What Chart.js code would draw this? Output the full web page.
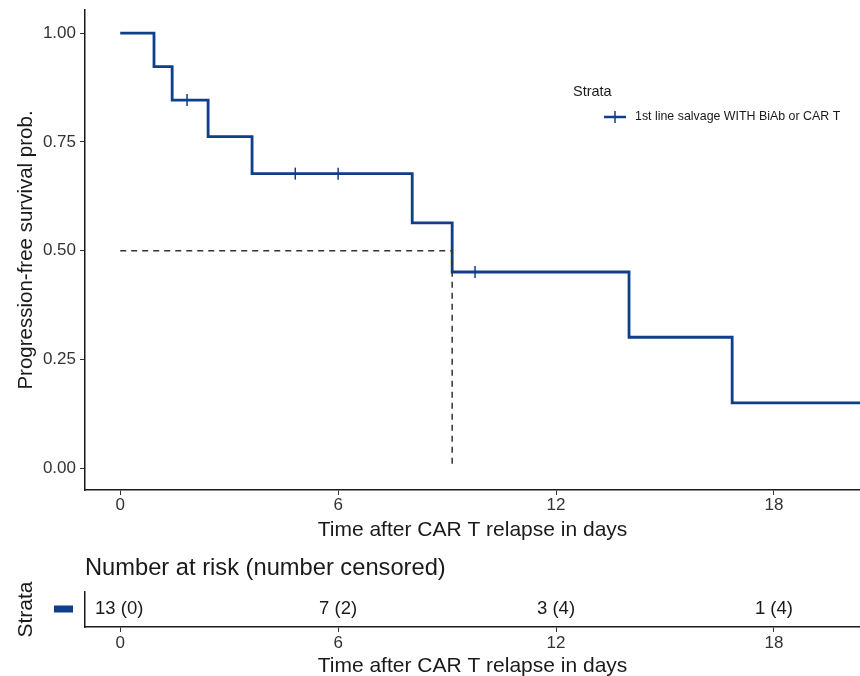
<!DOCTYPE html>
<html>
<head>
<meta charset="utf-8">
<script src="https://cdn.jsdelivr.net/npm/chart.js@4.4.0/dist/chart.umd.min.js"></script>
<style>
  body { margin: 0; background: #fff; overflow: hidden; }
  #wrap { position: relative; width: 860px; height: 676px; overflow: hidden; }
  #km { position: absolute; left: 0; top: 0; }
  #risk { position: absolute; left: 0; top: 540px; }
</style>
</head>
<body>
<div id="wrap">
  <canvas id="km" width="860" height="543"></canvas>
  <canvas id="risk" width="860" height="139"></canvas>
</div>
<script>
/* Data */
const stepTimes = [0, 0.93, 1.43, 2.42, 3.63, 8.04, 9.14, 14.01, 16.85, 20.4];
const stepSurv  = [1.00, 0.923, 0.846, 0.762, 0.677, 0.564, 0.451, 0.301, 0.150, 0.150];
const censorTimes = [1.84, 4.82, 6.0, 9.77];
const censorSurv  = [0.846, 0.677, 0.677, 0.451];
const medianTime = 9.14;
const xTicks = [0, 6, 12, 18];
const yTicks = [0, 0.25, 0.5, 0.75, 1];
const riskTimes = [0, 6, 12, 18];
const riskLabels = ['13 (0)', '7 (2)', '3 (4)', '1 (4)'];
const strataName = '1st line salvage WITH BiAb or CAR T';

const blue = '#0F3E8A';
const FONT = '"Liberation Sans", Arial, sans-serif';
Chart.defaults.font.family = FONT;
Chart.defaults.animation = false;

const X_MIN = -0.97, X_MAX = 20.37;

function toXY(xs, ys) {
  return xs.map(function (x, i) { return { x: x, y: ys[i] }; });
}

/* Legend inside the panel */
const kmLegend = {
  id: 'kmLegend',
  afterDraw: function (chart) {
    const ctx = chart.ctx;
    ctx.save();
    ctx.fillStyle = '#1a1a1a';
    ctx.font = '14.5px ' + FONT;
    ctx.textBaseline = 'middle';
    ctx.fillText('Strata', 573, 92);
    ctx.strokeStyle = blue;
    ctx.lineWidth = 2.5;
    ctx.beginPath();
    ctx.moveTo(604, 117); ctx.lineTo(626, 117);
    ctx.stroke();
    ctx.lineWidth = 1.5;
    ctx.beginPath();
    ctx.moveTo(615, 111); ctx.lineTo(615, 123);
    ctx.stroke();
    ctx.font = '12.4px ' + FONT;
    ctx.fillText(strataName, 635, 117);
    ctx.restore();
  }
};

new Chart(document.getElementById('km'), {
  type: 'scatter',
  data: {
    datasets: [
      {
        // median guide
        data: [{ x: 0, y: 0.5 }, { x: medianTime, y: 0.5 }, { x: medianTime, y: 0 }],
        showLine: true,
        borderColor: '#333',
        borderWidth: 1.5,
        borderDash: [6, 5],
        pointRadius: 0
      },
      {
        data: toXY(stepTimes, stepSurv),
        showLine: true,
        stepped: 'before',
        borderColor: blue,
        borderWidth: 2.8,
        pointRadius: 0
      },
      {
        data: toXY(censorTimes, censorSurv),
        pointStyle: 'line',
        rotation: 90,
        radius: 6,
        borderColor: blue,
        borderWidth: 1.5
      }
    ]
  },
  options: {
    responsive: false,
    layout: { autoPadding: false, padding: { top: 10, right: 0, left: 0, bottom: 0 } },
    plugins: { legend: { display: false }, tooltip: { enabled: false } },
    scales: {
      x: {
        type: 'linear',
        min: X_MIN,
        max: X_MAX,
        afterBuildTicks: function (s) { s.ticks = xTicks.map(function (v) { return { value: v }; }); },
        afterFit: function (s) { s.height = 53; s.paddingLeft = 0; s.paddingRight = 0; },
        grid: { drawOnChartArea: false, drawTicks: true, tickLength: 5, color: '#333', lineWidth: 1 },
        border: { display: true, color: '#1a1a1a', width: 1.5 },
        ticks: { color: '#333', font: { size: 17 }, padding: 0, maxRotation: 0 },
        title: { display: true, text: 'Time after CAR T relapse in days', color: '#1a1a1a', font: { size: 21 }, padding: { top: 0, bottom: 0 } }
      },
      y: {
        min: -0.05,
        max: 1.053,
        afterBuildTicks: function (s) { s.ticks = yTicks.map(function (v) { return { value: v }; }); },
        afterFit: function (s) { s.width = 85; s.paddingTop = 0; s.paddingBottom = 0; },
        grid: { drawOnChartArea: false, drawTicks: true, tickLength: 5, color: '#333', lineWidth: 1 },
        border: { display: true, color: '#1a1a1a', width: 1.5 },
        ticks: { color: '#333', font: { size: 17 }, padding: 4, callback: function (v) { return v.toFixed(2); } },
        title: { display: true, text: 'Progression-free survival prob.', color: '#1a1a1a', font: { size: 20.5 }, padding: { top: 14, bottom: 0 } }
      }
    }
  },
  plugins: [kmLegend]
});

/* Risk table text, title and strata key */
const riskText = {
  id: 'riskText',
  afterDraw: function (chart) {
    const ctx = chart.ctx;
    const xs = chart.scales.x;
    const area = chart.chartArea;
    const midY = (area.top + area.bottom) / 2;
    ctx.save();
    ctx.fillStyle = '#1a1a1a';
    ctx.font = '23.7px ' + FONT;
    ctx.textBaseline = 'middle';
    ctx.textAlign = 'left';
    ctx.fillText('Number at risk (number censored)', 85, 28);
    ctx.font = '18.5px ' + FONT;
    riskTimes.forEach(function (t, i) {
      let px = xs.getPixelForValue(t);
      ctx.textAlign = i === 0 ? 'left' : 'center';
      if (i === 0) px = area.left + 10;
      ctx.fillText(riskLabels[i], px, midY - 1);
    });
    ctx.fillStyle = blue;
    ctx.fillRect(54, midY - 4, 19, 7);
    ctx.restore();
  }
};

new Chart(document.getElementById('risk'), {
  type: 'scatter',
  data: { datasets: [{ data: [] }] },
  options: {
    responsive: false,
    layout: { autoPadding: false, padding: { top: 52, right: 0, left: 0, bottom: 0 } },
    plugins: { legend: { display: false }, tooltip: { enabled: false } },
    scales: {
      x: {
        type: 'linear',
        min: X_MIN,
        max: X_MAX,
        afterBuildTicks: function (s) { s.ticks = xTicks.map(function (v) { return { value: v }; }); },
        afterFit: function (s) { s.height = 52; s.paddingLeft = 0; s.paddingRight = 0; },
        grid: { drawOnChartArea: false, drawTicks: true, tickLength: 5, color: '#333', lineWidth: 1 },
        border: { display: true, color: '#1a1a1a', width: 1.5 },
        ticks: { color: '#333', font: { size: 17 }, padding: 1, maxRotation: 0 },
        title: { display: true, text: 'Time after CAR T relapse in days', color: '#1a1a1a', font: { size: 21 }, padding: { top: 0, bottom: 0 } }
      },
      y: {
        min: 0,
        max: 1,
        afterFit: function (s) { s.width = 85; s.paddingTop = 0; s.paddingBottom = 0; },
        grid: { display: false },
        border: { display: true, color: '#1a1a1a', width: 1.5 },
        ticks: { display: false },
        title: { display: true, text: 'Strata', color: '#1a1a1a', font: { size: 21 }, padding: { top: 14, bottom: 0 } }
      }
    }
  },
  plugins: [riskText]
});
</script>
</body>
</html>
